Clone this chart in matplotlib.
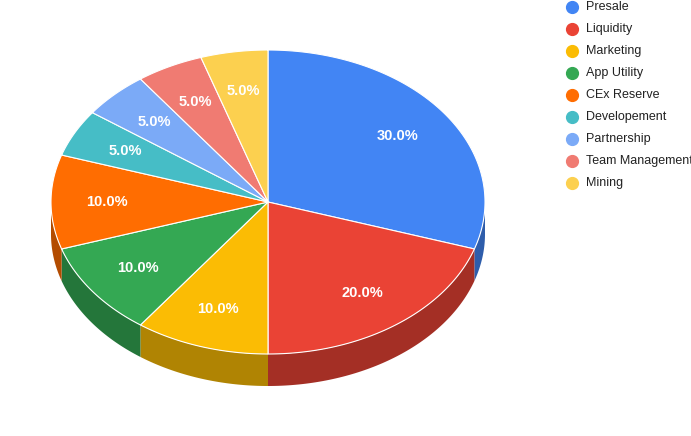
import matplotlib
matplotlib.use('Agg')
import matplotlib.pyplot as plt
import numpy as np

plt.rcParams['font.family'] = ['Liberation Sans', 'DejaVu Sans']

labels = ['Presale', 'Liquidity', 'Marketing', 'App Utility', 'CEx Reserve',
          'Developement', 'Partnership', 'Team Management', 'Mining']
values = [30, 20, 10, 10, 10, 5, 5, 5, 5]
colors = ['#4285f4', '#ea4335', '#fbbc04', '#34a853', '#ff6d01',
          '#46bdc6', '#7baaf7', '#f07b72', '#fcd04f']

W, H = 691, 436
cx, cy, rx, ry, depth = 268, 202, 217, 152, 32

fig = plt.figure(figsize=(W / 100, H / 100), dpi=100)
ax = fig.add_axes([0, 0, 1, 1])
ax.set_xlim(0, W)
ax.set_ylim(H, 0)
ax.axis('off')

def pt(theta, dy=0):
  return cx + rx * np.cos(theta), cy - ry * np.sin(theta) + dy

def darker(c, f=0.7):
  rgb = np.array(matplotlib.colors.to_rgb(c))
  return tuple(rgb * f)

total = sum(values)
starts = []
a = np.pi / 2
for v in values:
  span = 2 * np.pi * v / total
  starts.append((a - span, a))
  a -= span

# sides (front half only: theta in (pi, 2pi) mod 2pi)
for (lo, hi), c in zip(starts, colors):
  for k in range(-2, 2):
    blo, bhi = np.pi + 2 * np.pi * k, 2 * np.pi + 2 * np.pi * k
    s, e = max(lo, blo), min(hi, bhi)
    if e > s:
      th = np.linspace(s, e, 80)
      x, y = pt(th)
      xs = np.concatenate([x, x[::-1]])
      ys = np.concatenate([y, (y + depth)[::-1]])
      ax.fill(xs, ys, color=darker(c), lw=0)

# tops
for (lo, hi), c in zip(starts, colors):
  th = np.linspace(lo, hi, 120)
  x, y = pt(th)
  ax.fill(np.r_[cx, x], np.r_[cy, y], color=c, ec='white', lw=0.8)

for (lo, hi), v in zip(starts, values):
  m = (lo + hi) / 2
  r = 0.74
  x = cx + r * rx * np.cos(m)
  y = cy - r * ry * np.sin(m)
  ax.text(x, y, '{:.1f}%'.format(v), color='white', fontsize=10.5,
          fontweight='bold', ha='center', va='center')

for i, (lab, c) in enumerate(zip(labels, colors)):
  y = 7 + 22 * i
  ax.plot(572, y, 'o', color=c, ms=8.5)
  ax.text(586, y, lab, fontsize=9, color='#222222', va='center')

fig.savefig('out.png', dpi=100)
